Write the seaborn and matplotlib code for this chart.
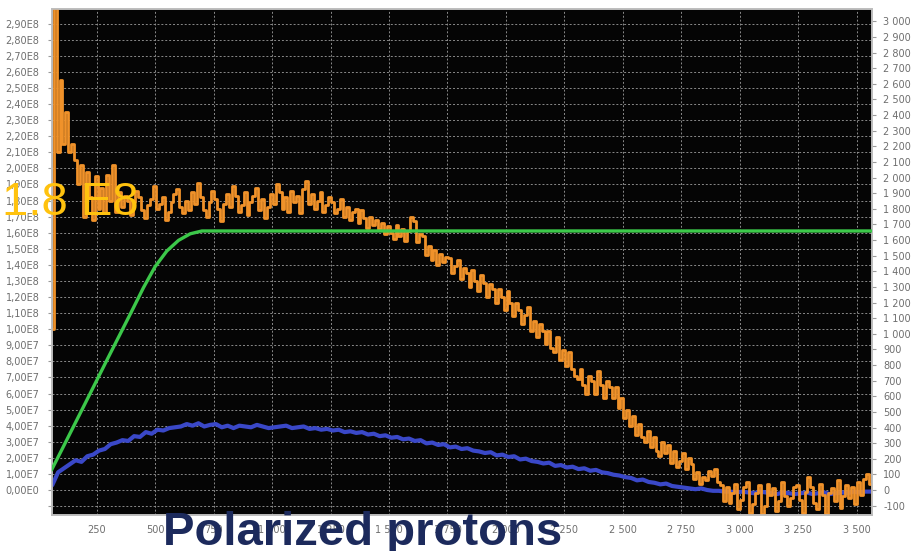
import numpy as np
import pandas as pd
import matplotlib
matplotlib.use("Agg")
import matplotlib.pyplot as plt
import seaborn as sns
from matplotlib.ticker import FixedLocator, FuncFormatter

# Beam intensity per sample (units of 1e7), evenly sampled from 60 to 3570
intensity = [
    10.0, 30.5, 21.0, 25.5, 21.5, 23.5, 21.0, 21.5, 20.5, 19.0, 20.2, 17.0,
    19.8, 18.2, 16.8, 19.5, 17.5, 18.8, 17.2, 19.6, 18.0, 20.2, 17.3, 18.5,
    17.6, 18.3, 18.0, 17.1, 17.9, 18.6, 18.2, 17.4, 16.9, 17.7, 18.1, 18.9,
    17.5, 17.8, 18.2, 16.8, 17.3, 17.9, 18.4, 18.7, 17.6, 17.2, 18.0, 17.4,
    18.5, 17.8, 19.1, 18.2, 17.4, 17.0, 17.9, 18.6, 18.1, 17.5, 16.7, 17.8,
    18.4, 17.6, 18.9, 18.3, 17.3, 17.7, 18.5, 17.1, 17.9, 18.3, 18.8, 17.4,
    18.1, 16.9, 17.6, 18.4, 17.8, 19.0, 18.5, 17.5, 18.2, 17.3, 18.6, 17.9,
    18.3, 17.2, 18.7, 19.2, 17.8, 18.4, 17.5, 18.0, 18.5, 17.3, 17.7, 18.2,
    17.9, 17.2, 17.5, 18.1, 17.0, 17.6, 16.8, 17.3, 17.5, 16.6, 17.4, 16.9,
    16.3, 17.0, 16.5, 16.8,
    16.2, 16.6, 15.9, 16.4, 16.0, 15.6, 16.5, 15.8, 16.2, 15.5, 16.1, 17.0,
    16.7, 15.4, 15.9, 15.8,
    14.6, 15.2, 14.3, 14.9, 14.0, 14.7, 14.2, 14.5,
    14.4, 13.5, 13.9, 14.3, 13.1, 13.8, 13.5, 12.6, 13.7, 13.0, 12.4, 13.4,
    12.9, 12.0, 12.8, 12.5, 11.6, 12.5, 12.0, 11.2, 12.4, 11.6, 10.8, 11.6,
    11.2, 10.3, 10.9, 11.4, 9.9, 10.5, 9.5, 10.3, 9.9, 9.1, 9.9, 8.8,
    8.6, 9.5, 8.1, 8.7, 7.7, 8.6, 7.5, 7.1,
    6.9, 7.5, 6.5, 6.0, 7.1, 6.8, 6.0, 7.4, 6.5, 5.7, 6.8, 6.4,
    5.7, 6.4, 5.1, 5.7, 4.5, 5.0, 4.0, 4.6, 3.4, 4.1, 3.3, 3.0,
    3.7, 2.7, 3.3, 2.4, 2.1, 3.0, 2.3, 2.8, 1.7, 2.4, 1.4, 1.8,
    2.3, 1.3, 2.0, 1.6,
    0.7, 1.1, 0.4, 0.8, 0.6, 1.2, 0.9, 1.3, 0.5, 0.3, -0.7, 0.2,
    -0.8, -0.2, 0.4, -1.2, -0.6, 0.2, 0.5, -1.4, -0.9, -0.2, 0.3, -1.5,
    -1.0, 0.4, -0.3, 0.1, -1.3, -0.7, 0.5, -0.4, -1.0, -0.5, 0.2, 0.3,
    -0.6, -1.4, -0.1, 0.8, 0.2, -0.8, -1.2, 0.4, -0.3, -1.5, -0.2, 0.1,
    -0.7, 0.6, -1.1, -0.4, 0.3, -0.5, 0.2, -0.9, 0.5, -0.3, 0.7, 1.0,
    0.4, -0.6,
]
intensity_start, intensity_stop = 60, 3570

# Averaged intensity (units of 1e7), evenly sampled from 60 to 3560
average = [
    0.3, 1.1, 1.35, 1.6, 1.85, 1.75, 2.1, 2.2, 2.45, 2.55, 2.85, 2.95,
    3.1, 3.05, 3.35, 3.3, 3.6, 3.5, 3.75, 3.7, 3.85, 3.9, 3.95, 4.1,
    4.0, 4.15, 3.95, 4.05, 4.1, 3.9, 4.0, 3.85, 4.0, 3.95, 3.9, 4.05,
    3.95, 3.85, 3.9, 3.95, 4.0, 3.85, 3.9, 3.95, 3.8, 3.85, 3.75, 3.8,
    3.7, 3.75, 3.6, 3.65, 3.55, 3.6, 3.45, 3.5, 3.35, 3.4, 3.25, 3.3,
    3.15, 3.2, 3.05, 3.1, 2.9, 2.95, 2.8, 2.85, 2.65, 2.7, 2.55, 2.6,
    2.45, 2.4, 2.3, 2.35, 2.15, 2.2, 2.05, 2.1, 1.9, 1.95, 1.8, 1.75,
    1.65, 1.7, 1.5, 1.55, 1.4, 1.45, 1.3, 1.35, 1.2, 1.25, 1.1, 1.05,
    0.95, 0.9, 0.8, 0.75, 0.6, 0.65, 0.5, 0.45, 0.35, 0.4, 0.25, 0.2,
    0.15, 0.1, 0.05, 0.1, 0.0, -0.05, -0.05, -0.1, -0.1, -0.15, -0.1, -0.15,
    -0.2, -0.1, -0.15, -0.2, -0.25, -0.15, -0.2, -0.25, -0.2, -0.15, -0.25, -0.2,
    -0.15, -0.25, -0.2, -0.15, -0.2, -0.1, -0.15, -0.1, -0.1,
]
average_start, average_stop = 60, 3560

# Magnet ramp (right-hand scale)
ramp_x = [57, 100, 200, 300, 400, 450, 500, 550, 600, 650, 700, 3573]
ramp_y = [128, 255, 552, 850, 1145, 1295, 1430, 1530, 1598, 1640, 1658, 1658]

x_ticks = [250, 500, 750, 1000, 1250, 1500, 1750, 2000, 2250, 2500, 2750,
           3000, 3250, 3500]
left_ticks = [v * 1e7 for v in range(-1, 30)]
right_ticks = list(range(-100, 3001, 100))

title_text = "Polarized protons"
note_text = "1.8 E8"

sns.set_theme(style="white")
plt.rcParams["font.family"] = ["DejaVu Sans"]

fig = plt.figure(figsize=(9.22, 5.51), dpi=100)
fig.patch.set_facecolor("white")
ax = fig.add_axes([52 / 922, 1 - 515 / 551, 820 / 922, (515 - 9.3) / 551])
ax.set_facecolor("#050505")
ax2 = ax.twinx()

df_int = pd.DataFrame({
    "x": np.linspace(intensity_start, intensity_stop, len(intensity)),
    "y": np.array(intensity) * 1e7,
})
df_avg = pd.DataFrame({
    "x": np.linspace(average_start, average_stop, len(average)),
    "y": np.array(average) * 1e7,
})
df_ramp = pd.DataFrame({"x": ramp_x, "y": ramp_y})

sns.lineplot(data=df_avg, x="x", y="y", ax=ax, color="#3a48c8",
             linewidth=3.0, estimator=None, sort=False, zorder=3)
sns.lineplot(data=df_int, x="x", y="y", ax=ax, color="#f0922a",
             linewidth=2.0, estimator=None, sort=False,
             drawstyle="steps-mid", zorder=4)
sns.lineplot(data=df_ramp, x="x", y="y", ax=ax2, color="#3cc84a",
             linewidth=2.4, estimator=None, sort=False, zorder=5)

ax.set_xlim(59, 3565)
ax.set_ylim(-1.554e7, 2.989e8)
ax2.set_ylim(-160, 3077)

ax.xaxis.set_major_locator(FixedLocator(x_ticks))
ax.xaxis.set_major_formatter(FuncFormatter(lambda v, p: f"{int(v):,}".replace(",", " ")))
ax.yaxis.set_major_locator(FixedLocator(left_ticks))


def left_fmt(v, p):
    if v < -1:
        return ""
    if abs(v) < 1:
        return "0,00E0"
    exp = int(np.floor(np.log10(abs(v)) + 1e-9))
    return f"{v / 10 ** exp:.2f}E{exp}".replace(".", ",")


ax.yaxis.set_major_formatter(FuncFormatter(left_fmt))
ax2.yaxis.set_major_locator(FixedLocator(right_ticks))
ax2.yaxis.set_major_formatter(FuncFormatter(lambda v, p: f"{int(v):,}".replace(",", " ")))

ax.grid(True, which="major", color="#8a8a8a", linestyle=(0, (2, 2)), linewidth=0.7)
ax.set_axisbelow(True)
ax.set_xlabel("")
ax.set_ylabel("")
ax2.set_ylabel("")

tick_kw = dict(labelsize=7, labelcolor="#6e6e6e", color="#9a9a9a",
               length=3, width=0.8, direction="out")
ax.tick_params(axis="both", **tick_kw)
ax.tick_params(axis="x", pad=4)
ax.tick_params(axis="y", pad=6)
ax2.tick_params(axis="y", pad=5, **tick_kw)

for a in (ax, ax2):
    for s in a.spines.values():
        s.set_color("#bdbdbd")
        s.set_linewidth(1.2)

fig.text(163 / 922, 1 - 545 / 551, title_text, fontsize=34, fontweight="bold",
         color="#1c2a5c", family=["Liberation Sans", "DejaVu Sans"],
         ha="left", va="baseline", zorder=10)
fig.text(2 / 922, 1 - 215 / 551, note_text, fontsize=34,
         color="#ffc20e", family=["Liberation Sans", "DejaVu Sans"],
         ha="left", va="baseline", zorder=10)

fig.savefig("out.png", dpi=100, facecolor="white")
